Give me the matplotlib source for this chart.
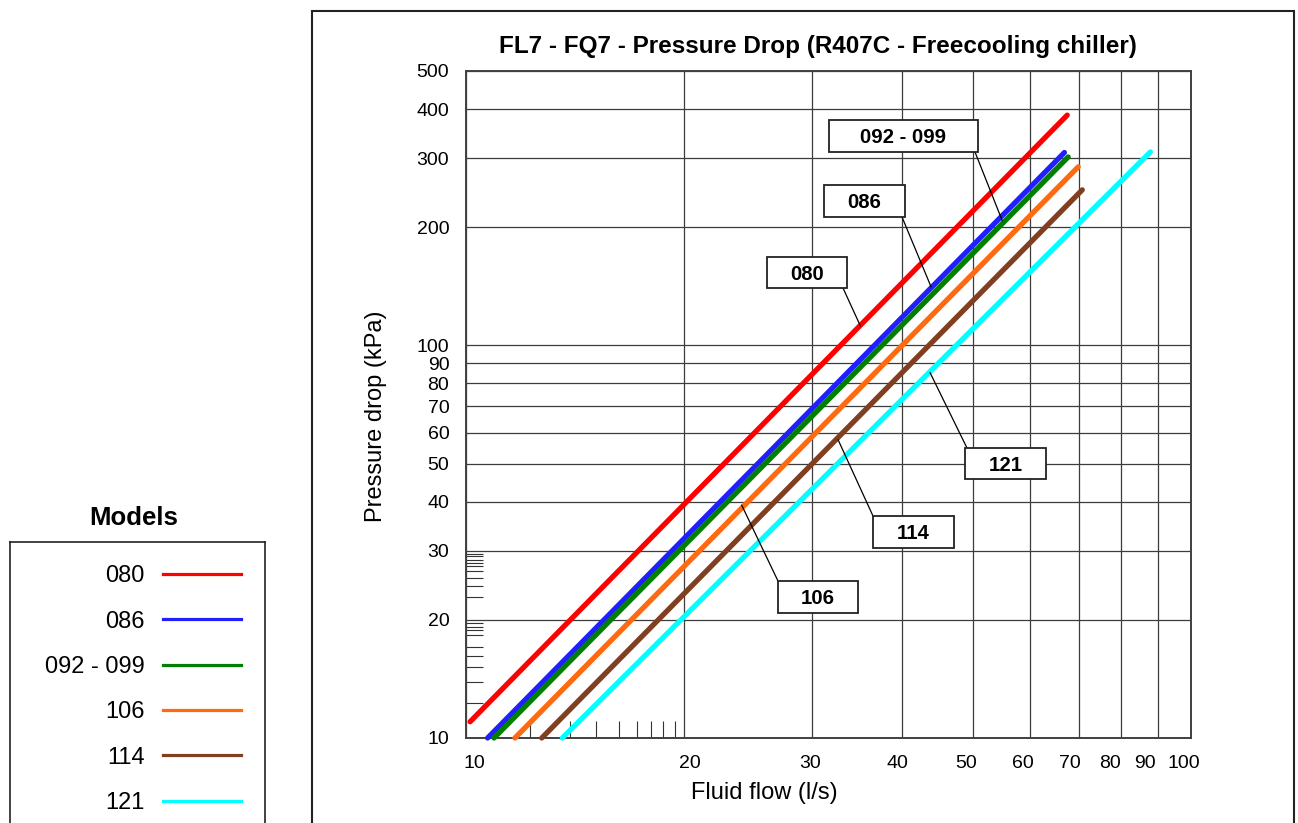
import matplotlib
matplotlib.use("Agg")
import matplotlib.pyplot as plt
from matplotlib.patches import Rectangle
from matplotlib.ticker import NullFormatter
from matplotlib.transforms import ScaledTranslation

plt.rcParams['font.family'] = ['Liberation Sans', 'DejaVu Sans']

# ---- data (l/s, kPa) ----
models = ['080', '086', '092 - 099', '106', '114', '121']
colors = ['#ff0000', '#2020ff', '#008000', '#ff6a10', '#7f3f20', '#00ffff']
flow_start = [10.13, 10.71, 10.93, 11.68, 12.72, 13.58]
dp_start = [11.0, 10.0, 10.0, 10.0, 10.0, 10.0]
flow_end = [67.5, 66.9, 67.7, 69.9, 70.8, 87.9]
dp_end = [386, 310, 302, 285, 249, 311]

# label boxes: point on the curve where the leader line ends
label_flow = [35.0, 43.8, 54.9, 24.0, 32.6, 43.65]
label_dp = [112.0, 141.0, 208.0, 39.2, 57.5, 85.3]

x_ticks = [10, 20, 30, 40, 50, 60, 70, 80, 90, 100]
y_ticks = [10, 20, 30, 40, 50, 60, 70, 80, 90, 100, 200, 300, 400, 500]
x_minor = [12.26, 13.9, 15.1, 16.24, 17.2, 18.0, 18.7, 19.4]
y_minor = [12.3, 13.9, 15.2, 16.2, 17.1, 18.3, 18.8, 19.2, 19.6,
           22.8, 24.4, 25.6, 26.6, 27.4, 27.9, 28.4, 29.0, 29.5]
# the original x labels sit a little off their grid lines (pixels)
x_label_shift = [8.8, 5.6, -1.5, -5.4, -7.1, -7.5, -9, -11, -13, -7]

W, H = 1298, 823


def fx(x):
    return x / W


def fy(y):
    return 1 - y / H


fig = plt.figure(figsize=(W / 100, H / 100), dpi=100)

# outer frame of the chart panel
fig.add_artist(Rectangle((fx(312), fy(840)), fx(1294) - fx(312), fy(11) - fy(840),
                         transform=fig.transFigure, fill=False, ec='#222222', lw=1.5))

ax = fig.add_axes([fx(466), fy(738), fx(1191) - fx(466), fy(71) - fy(738)])
ax.set_xscale('log')
ax.set_yscale('log')
ax.set_xlim(10, 100)
ax.set_ylim(10, 500)

for i in range(len(models)):
    ax.plot([flow_start[i], flow_end[i]], [dp_start[i], dp_end[i]], color=colors[i],
            lw=3.8, solid_capstyle='round', clip_on=False, zorder=3)

ax.set_xticks(x_ticks, [str(v) for v in x_ticks])
ax.set_yticks(y_ticks, [str(v) for v in y_ticks])
ax.set_xticks(x_minor, minor=True)
ax.set_yticks(y_minor, minor=True)
ax.xaxis.set_minor_formatter(NullFormatter())
ax.yaxis.set_minor_formatter(NullFormatter())
ax.tick_params(which='major', length=0, labelsize=14, pad=12)
ax.tick_params(which='minor', direction='in', length=12, width=0.8, color='#333333')
ax.grid(which='major', color='#3c3c3c', lw=0.9)
for sp in ax.spines.values():
    sp.set_color('#404040')
    sp.set_linewidth(1.4)

for tick, dx in zip(ax.xaxis.get_major_ticks(), x_label_shift):
    tick.label1.set_transform(tick.label1.get_transform() +
                              ScaledTranslation(dx / 100, 0, fig.dpi_scale_trans))

fig.text(fx(818), fy(47), 'FL7 - FQ7 - Pressure Drop (R407C - Freecooling chiller)',
         ha='center', va='center', fontsize=17.5, fontweight='bold')
fig.text(fx(764), fy(793), 'Fluid flow (l/s)', ha='center', va='center', fontsize=17)
fig.text(fx(376), fy(416), 'Pressure drop (kPa)', ha='center', va='center',
         rotation=90, fontsize=17)

# label boxes (pixel boxes, leader start on the box)
boxes = [(767, 257, 847, 288), (824, 185, 905, 217), (829, 120, 978, 152),
         (778, 581, 858, 613), (873, 516, 954, 548), (965, 448, 1046, 479)]
leader_from = [(843, 288), (902, 217), (975, 152), (778, 581), (873, 516), (967, 448)]
for i, (x0, y0, x1, y1) in enumerate(boxes):
    ax.add_patch(Rectangle((fx(x0), fy(y1)), fx(x1) - fx(x0), fy(y0) - fy(y1),
                           transform=fig.transFigure, fc='white', ec='#222222',
                           lw=1.3, clip_on=False, zorder=6))
    ax.text(fx((x0 + x1) / 2), fy((y0 + y1) / 2 + 7.3), models[i],
            transform=fig.transFigure, ha='center', va='baseline',
            fontsize=14.7, fontweight='bold', zorder=7)
    ax.annotate('', xy=(label_flow[i], label_dp[i]), xycoords='data',
                xytext=(fx(leader_from[i][0]), fy(leader_from[i][1])),
                textcoords='figure fraction',
                arrowprops=dict(arrowstyle='-', color='black', lw=0.9,
                                shrinkA=0, shrinkB=0), zorder=5)

# legend panel on the left
lax = fig.add_axes([fx(10), fy(840), fx(265) - fx(10), fy(542) - fy(840)])
lax.set_xlim(10, 265)
lax.set_ylim(840, 542)
lax.set_xticks([])
lax.set_yticks([])
for sp in lax.spines.values():
    sp.set_color('#222222')
    sp.set_linewidth(1.2)
for i in range(len(models)):
    yy = 574 + 45.3 * i
    lax.plot([163, 241], [yy, yy], color=colors[i], lw=2.3)
    lax.text(145, yy + 8.4, models[i], ha='right', va='baseline', fontsize=17)
fig.text(fx(134), fy(518), 'Models', ha='center', va='center', fontsize=18.5,
         fontweight='bold')

fig.savefig('out.png', dpi=100)
